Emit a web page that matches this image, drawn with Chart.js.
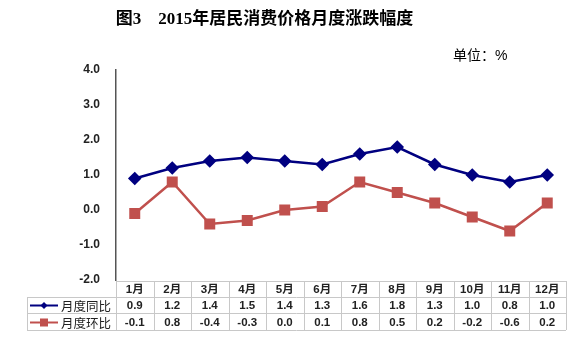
<!DOCTYPE html>
<html><head><meta charset="utf-8">
<script src="https://cdn.jsdelivr.net/npm/chart.js@4"></script>
<style>
html,body{margin:0;padding:0;background:#fff;}
#wrap{position:relative;width:579px;height:343px;}
#title{position:absolute;left:0;width:529px;top:4px;text-align:center;font:bold 17px "Liberation Serif","Noto Sans CJK SC",serif;color:#000;white-space:pre;}
#unit{position:absolute;left:453px;top:44px;font:14px "Liberation Sans","Noto Sans CJK SC",sans-serif;color:#000;}
canvas{position:absolute;left:0;top:0;}
</style></head><body>
<div id="wrap">
<canvas id="c" width="579" height="343"></canvas>
<div id="title">图3　2015年居民消费价格月度涨跌幅度</div>
<div id="unit">单位：%</div>
</div>
<script>
const categories = ["1月","2月","3月","4月","5月","6月","7月","8月","9月","10月","11月","12月"];
const seriesNames = ["月度同比","月度环比"];
const yoy = [0.9,1.2,1.4,1.5,1.4,1.3,1.6,1.8,1.3,1.0,0.8,1.0];
const mom = [-0.1,0.8,-0.4,-0.3,0.0,0.1,0.8,0.5,0.2,-0.2,-0.6,0.2];
const yTicks = [-2,-1,0,1,2,3,4];

const BLUE = "#000080", RED = "#C0504D";

const tablePlugin = {
  id: "dataTable",
  afterDraw(chart) {
    const ctx = chart.ctx, x = chart.scales.x, a = chart.chartArea;
    const left = 27, right = a.right;
    const rows = [a.bottom + 1, a.bottom + 17, a.bottom + 33, a.bottom + 50];
    const colW = (a.right - a.left) / categories.length;
    ctx.save();
    ctx.strokeStyle = "#c8c8c8"; ctx.lineWidth = 1;
    ctx.beginPath();
    ctx.moveTo(a.left, rows[0] + 0.5); ctx.lineTo(right, rows[0] + 0.5);
    for (let i = 1; i < 4; i++) { ctx.moveTo(left, rows[i] + 0.5); ctx.lineTo(right, rows[i] + 0.5); }
    ctx.moveTo(left + 0.5, rows[1]); ctx.lineTo(left + 0.5, rows[3]);
    for (let i = 0; i <= categories.length; i++) {
      const xx = Math.round(a.left + i * colW) + 0.5;
      ctx.moveTo(xx, rows[0]); ctx.lineTo(xx, rows[3]);
    }
    ctx.stroke();
    ctx.textAlign = "center"; ctx.textBaseline = "middle"; ctx.fillStyle = "#222";
    ctx.font = 'bold 11.5px "Liberation Sans","Noto Sans CJK SC",sans-serif';
    const data = [yoy, mom];
    categories.forEach((c, i) => {
      const cx = x.getPixelForValue(i);
      ctx.fillText(c, cx, (rows[0] + rows[1]) / 2 + 1);
      for (let r = 0; r < 2; r++) ctx.fillText(data[r][i].toFixed(1), cx, (rows[r + 1] + rows[r + 2]) / 2 + 1);
    });
    const colors = [BLUE, RED];
    for (let r = 0; r < 2; r++) {
      const cy = Math.round((rows[r + 1] + rows[r + 2]) / 2) + 0.5;
      ctx.strokeStyle = colors[r]; ctx.lineWidth = 2;
      ctx.beginPath(); ctx.moveTo(30, cy); ctx.lineTo(58, cy); ctx.stroke();
      ctx.fillStyle = colors[r];
      if (r === 0) {
        ctx.beginPath(); ctx.moveTo(44, cy - 3.5); ctx.lineTo(47.5, cy); ctx.lineTo(44, cy + 3.5); ctx.lineTo(40.5, cy); ctx.closePath(); ctx.fill();
      } else {
        ctx.fillRect(40, cy - 4, 8, 8);
      }
      ctx.fillStyle = "#222";
      ctx.textAlign = "left";
      ctx.font = '12.5px "Noto Sans CJK SC",sans-serif';
      ctx.fillText(seriesNames[r], 61, cy + 1);
    }
    ctx.restore();
  }
};

new Chart(document.getElementById("c"), {
  type: "line",
  data: {
    labels: categories,
    datasets: [
      { label: seriesNames[0], data: yoy, borderColor: BLUE, backgroundColor: BLUE, borderWidth: 2.5,
        pointStyle: "rectRot", pointRadius: 5, pointHoverRadius: 5, tension: 0 },
      { label: seriesNames[1], data: mom, borderColor: RED, backgroundColor: RED, borderWidth: 2.5,
        pointStyle: "rect", pointRadius: 6, pointHoverRadius: 6, tension: 0 }
    ]
  },
  options: {
    responsive: false, animation: false, devicePixelRatio: 1,
    layout: { padding: { left: 0, right: 13, top: 70, bottom: 63 } },
    plugins: { legend: { display: false }, tooltip: { enabled: false }, title: { display: false } },
    scales: {
      x: { display: false, offset: true },
      y: {
        min: -2, max: 4,
        afterFit(s) { s.width = 116; },
        afterBuildTicks(s) { s.ticks = yTicks.map(v => ({ value: v })); },
        grid: { display: false, drawTicks: false },
        border: { display: true, color: "#555", width: 1.5 },
        ticks: { padding: 16, color: "#222", font: { family: '"Liberation Sans",sans-serif', size: 12, weight: "bold" },
          callback: v => Number(v).toFixed(1) }
      }
    }
  },
  plugins: [tablePlugin]
});
</script>
</body></html>
